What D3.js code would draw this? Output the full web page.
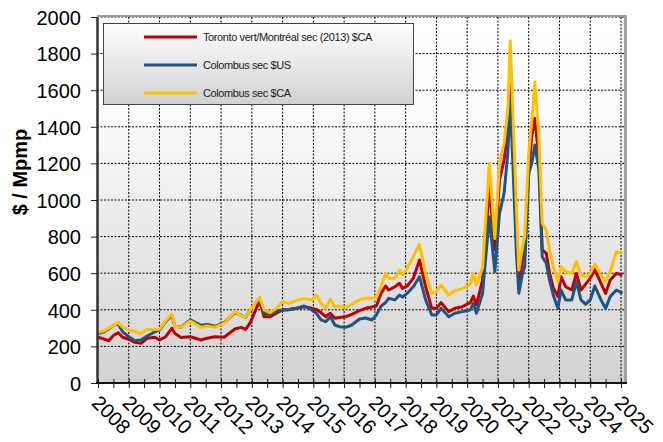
<!DOCTYPE html>
<html>
<head>
<meta charset="utf-8">
<script src="https://cdn.jsdelivr.net/npm/d3@7/dist/d3.min.js"></script>
<style>
  body { margin: 0; background: #fff; }
  text { font-family: Arial, "Liberation Sans", sans-serif; }
</style>
</head>
<body>
<div id="chart"></div>
<script>
// sample points (decimal years)
const dates = [
  2008.0, 2008.2, 2008.35, 2008.5, 2008.65, 2008.8, 2009.0, 2009.2, 2009.4, 2009.6, 2009.85,
  2010.0, 2010.2, 2010.4, 2010.5, 2010.7, 2011.0, 2011.35, 2011.55, 2011.8, 2012.1, 2012.45,
  2012.65, 2012.8, 2012.95, 2013.25, 2013.4, 2013.6, 2013.8, 2014.0, 2014.2, 2014.5, 2014.7,
  2014.95, 2015.1, 2015.25, 2015.4, 2015.55, 2015.7, 2015.85, 2016.05, 2016.25, 2016.5, 2016.7,
  2016.9, 2017.05, 2017.2, 2017.35, 2017.45, 2017.65, 2017.8, 2017.9, 2018.05, 2018.25, 2018.45,
  2018.65, 2018.85, 2019.0, 2019.15, 2019.4, 2019.6, 2019.85, 2020.1, 2020.2, 2020.3, 2020.5,
  2020.72, 2020.9, 2021.05, 2021.2, 2021.32, 2021.4, 2021.48, 2021.6, 2021.68, 2021.8, 2021.87,
  2022.0, 2022.1, 2022.15, 2022.2, 2022.33, 2022.44, 2022.57, 2022.68, 2022.8, 2022.95, 2023.05,
  2023.2, 2023.4, 2023.55, 2023.7, 2023.85, 2024.0, 2024.15, 2024.35, 2024.5, 2024.65, 2024.85,
  2025.05
];

const torontoCA = [
  250, 240, 231, 260, 275, 250, 239, 222, 217, 244, 250,
  235, 253, 299, 270, 248, 253, 235, 245, 253, 250, 295,
  304, 293, 330, 450, 362, 362, 381, 399, 400, 410, 417,
  408, 402, 385, 362, 381, 354, 358, 362, 375, 395, 408,
  415, 421, 490, 530, 508, 526, 545, 517, 530, 572, 672,
  526, 408, 408, 439, 390, 408, 417, 439, 475, 426, 563,
  1073, 727, 1109, 1219, 1383, 1710, 1346, 800, 545, 672, 727,
  1150, 1346, 1400, 1446, 1219, 727, 709, 599, 520, 472, 581,
  526, 508, 599, 508, 540, 572, 620, 545, 490, 563, 599,
  590
];

const colombusUS = [
  270, 280, 295, 315, 325, 280, 253, 231, 235, 257, 280,
  290, 335, 370, 310, 305, 345, 315, 320, 310, 330, 385,
  370, 360, 400, 465, 380, 377, 395, 399, 402, 410, 421,
  399, 381, 345, 335, 362, 317, 308, 304, 317, 350, 355,
  344, 372, 420, 440, 463, 454, 481, 470, 490, 526, 581,
  454, 372, 372, 408, 362, 381, 390, 399, 435, 381, 490,
  909, 608, 927, 1036, 1255, 1546, 1219, 709, 490, 599, 636,
  1146, 1200, 1250, 1301, 1164, 690, 654, 560, 480, 408, 508,
  454, 454, 554, 454, 430, 454, 530, 454, 408, 472, 508,
  490
];

const colombusCA = [
  275, 285, 300, 315, 330, 305, 290, 280, 270, 293, 293,
  295, 340, 377, 310, 304, 339, 304, 311, 304, 326, 390,
  366, 362, 399, 468, 399, 385, 408, 444, 435, 454, 461,
  454, 481, 435, 408, 457, 417, 421, 413, 430, 454, 463,
  465, 468, 526, 599, 572, 572, 617, 590, 627, 690, 757,
  599, 490, 499, 535, 481, 505, 515, 540, 599, 535, 630,
  1200, 790, 1200, 1310, 1492, 1870, 1510, 963, 617, 745, 800,
  1255, 1437, 1528, 1646, 1346, 873, 836, 727, 636, 554, 636,
  608, 599, 663, 590, 581, 599, 650, 590, 559, 608, 717,
  709
];

const seriesNames = ['Toronto vert/Montréal sec (2013) $CA', 'Colombus sec $US', 'Colombus sec $CA'];
const seriesColors = ['#c00000', '#1f5582', '#ffc000'];
const yTicks = d3.range(0, 2001, 200);
const yearTicks = d3.range(2008, 2026);
const halfYearTicks = d3.range(2008, 2025.01, 0.5);

const W = 663, H = 442;
const plot = { left: 97, right: 624, top: 17, bottom: 383 };

const svg = d3.select('#chart')
  .append('svg')
  .attr('width', W)
  .attr('height', H);

const defs = svg.append('defs');
const bg = defs.append('linearGradient').attr('id', 'bg').attr('x1', 0).attr('y1', 0).attr('x2', 0).attr('y2', 1);
bg.append('stop').attr('offset', '0%').attr('stop-color', '#ffffff');
bg.append('stop').attr('offset', '25%').attr('stop-color', '#fcfcfc');
bg.append('stop').attr('offset', '100%').attr('stop-color', '#d2d2d2');

const lg = defs.append('linearGradient').attr('id', 'lg').attr('x1', 0).attr('y1', 0).attr('x2', 0).attr('y2', 1);
lg.append('stop').attr('offset', '0%').attr('stop-color', '#ffffff');
lg.append('stop').attr('offset', '100%').attr('stop-color', '#d0d0d0');

const xScale = d3.scaleLinear()
  .domain([2008, 2025])
  .range([98, 621]);

const yScale = d3.scaleLinear()
  .domain([0, 2000])
  .range([plot.bottom, plot.top]);

// plot background
svg.append('rect')
  .attr('x', plot.left)
  .attr('y', plot.top)
  .attr('width', plot.right - plot.left)
  .attr('height', plot.bottom - plot.top)
  .style('fill', 'url(#bg)');

// grid lines
svg.append('g')
  .selectAll('line')
  .data(yTicks.filter(d => d > 0))
  .enter()
  .append('line')
  .attr('x1', plot.left)
  .attr('x2', plot.right)
  .attr('y1', d => yScale(d))
  .attr('y2', d => yScale(d))
  .style('stroke', '#000')
  .style('stroke-width', 1)
  .style('stroke-dasharray', '2,1.5');

svg.append('g')
  .selectAll('line')
  .data(yearTicks.slice(1))
  .enter()
  .append('line')
  .attr('x1', d => xScale(d))
  .attr('x2', d => xScale(d))
  .attr('y1', plot.top)
  .attr('y2', plot.bottom)
  .style('stroke', '#000')
  .style('stroke-width', 1)
  .style('stroke-dasharray', '2,1.5');

// frame shadow at top and right
svg.append('line')
  .attr('x1', plot.left).attr('x2', plot.right + 3)
  .attr('y1', plot.top - 1).attr('y2', plot.top - 1)
  .style('stroke', '#9a9a9a').style('stroke-width', 2);
svg.append('line')
  .attr('x1', plot.right + 1.5).attr('x2', plot.right + 1.5)
  .attr('y1', plot.top - 2).attr('y2', plot.bottom)
  .style('stroke', '#a0a0a0').style('stroke-width', 3);

// series lines
const line = d3.line()
  .x((d, i) => xScale(dates[i]))
  .y(d => yScale(d));

[torontoCA, colombusUS, colombusCA].forEach((values, k) => {
  svg.append('path')
    .datum(values)
    .attr('d', line)
    .style('fill', 'none')
    .style('stroke', seriesColors[k])
    .style('stroke-width', 3)
    .style('stroke-linejoin', 'round');
});

// y axis
const yAxis = svg.append('g')
  .attr('class', 'y-axis')
  .attr('transform', `translate(${plot.left},0)`)
  .call(d3.axisLeft(yScale).tickValues(yTicks).tickSize(6).tickSizeOuter(0).tickPadding(10).tickFormat(d3.format('d')));
yAxis.select('.domain').style('stroke', '#333').style('stroke-width', 2.5);
yAxis.selectAll('.tick line').style('stroke', '#222');
yAxis.selectAll('.tick text')
  .style('font-size', '20px')
  .style('fill', '#000')
  .attr('dy', '0.36em');

// x axis: half-year ticks crossing the axis
const xMinor = svg.append('g')
  .attr('transform', `translate(0,${plot.bottom})`)
  .call(d3.axisBottom(xScale).tickValues(halfYearTicks).tickSize(5).tickSizeOuter(0).tickFormat(''));
xMinor.select('.domain').remove();
xMinor.selectAll('.tick line').attr('y1', -4).style('stroke', '#111');

const xAxis = svg.append('g')
  .attr('class', 'x-axis')
  .attr('transform', `translate(0,${plot.bottom})`)
  .call(d3.axisBottom(xScale).tickValues(yearTicks).tickSize(0).tickSizeOuter(0).tickFormat(d3.format('d')));
xAxis.select('.domain')
  .attr('d', `M${plot.left - 1},0H${plot.right + 3}`)
  .style('stroke', '#111').style('stroke-width', 2);
xAxis.selectAll('.tick text')
  .style('font-size', '20px')
  .style('fill', '#000')
  .style('text-anchor', 'start')
  .attr('y', 0)
  .attr('dy', '0.35em')
  .attr('transform', 'translate(-3,16) rotate(45)');

// y axis title
svg.append('text')
  .attr('transform', `translate(27,172) rotate(-90)`)
  .style('text-anchor', 'middle')
  .style('font-weight', 'bold')
  .style('font-size', '20px')
  .text('$ / Mpmp');

// legend
const legend = svg.append('g').attr('class', 'legend');
legend.append('rect')
  .attr('x', 103.5).attr('y', 23.5)
  .attr('width', 310).attr('height', 81)
  .style('fill', 'url(#lg)')
  .style('stroke', '#444').style('stroke-width', 1);

seriesNames.forEach((name, k) => {
  const ly = 37 + k * 28;
  legend.append('line')
    .attr('x1', 144).attr('x2', 197)
    .attr('y1', ly).attr('y2', ly)
    .style('stroke', seriesColors[k]).style('stroke-width', 3);
  legend.append('text')
    .attr('x', 203).attr('y', ly)
    .attr('dy', '0.35em')
    .style('font-size', '11px')
    .style('letter-spacing', '-0.4px')
    .style('fill', '#222')
    .text(name);
});
</script>
</body>
</html>
